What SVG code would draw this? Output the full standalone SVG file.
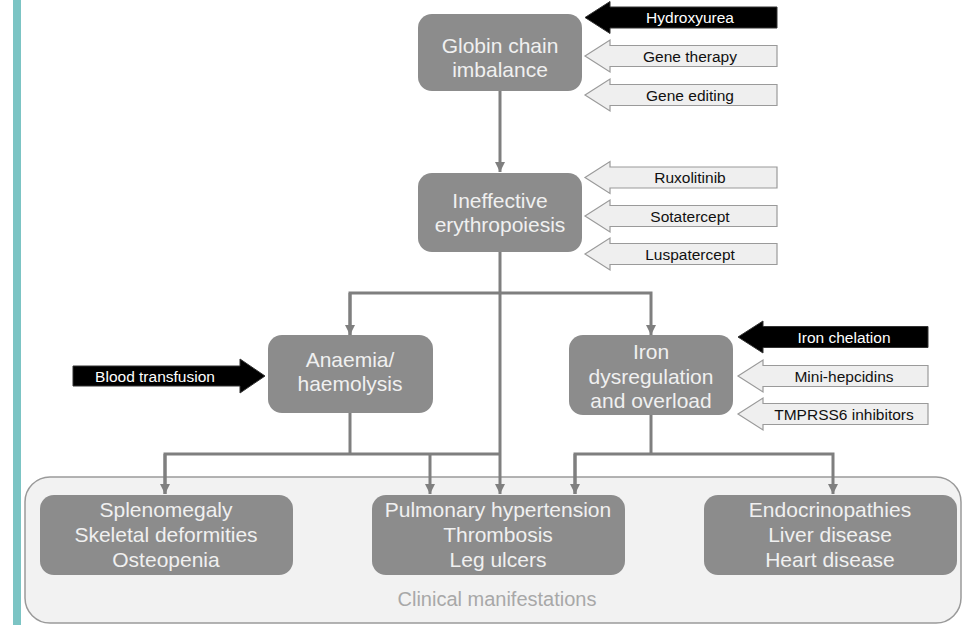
<svg xmlns="http://www.w3.org/2000/svg" xmlns:xlink="http://www.w3.org/1999/xlink" width="963" height="628" viewBox="0 0 963 628">
<style>
.node{fill:#8c8c8c;}
.nt{font-family:"Liberation Sans",Arial,sans-serif;font-size:21px;fill:#f0f0f0;text-anchor:middle;}
.conn{stroke:#7f7f7f;stroke-width:3;fill:none;}
.blk{fill:#000;stroke:#333;stroke-width:1;}
.lgt{fill:#efefef;stroke:#9a9a9a;stroke-width:1.2;}
.lb{font-family:"Liberation Sans",Arial,sans-serif;font-size:15.5px;text-anchor:middle;}
.lbw{fill:#ffffff;}
.lbk{fill:#111;}
.cm{font-family:"Liberation Sans",Arial,sans-serif;font-size:20px;fill:#a8a8a8;text-anchor:middle;}
</style>
<defs>
<marker id="ah" viewBox="0 0 10 10" refX="10" refY="5" markerWidth="10" markerHeight="11" markerUnits="userSpaceOnUse" orient="auto">
<path d="M0,0 L10,5 L0,10 Z" fill="#7f7f7f"/>
</marker>
<path id="larrow" d="M0,0 L25,-16 L25,-10.5 L192,-10.5 L192,10.5 L25,10.5 L25,16 Z"/>
<path id="larrow2" d="M0,0 L25,-16 L25,-10.5 L190,-10.5 L190,10.5 L25,10.5 L25,16 Z"/>
</defs>
<rect x="13" y="0" width="8" height="625" fill="#7cc4c4"/>
<g id="clinical">
<rect x="25" y="477" width="936" height="146" rx="25" fill="#f2f2f2" stroke="#9a9a9a" stroke-width="1.5"/>
<text class="cm" x="497" y="606">Clinical manifestations</text>
</g>
<g id="connectors">
<line class="conn" x1="500" y1="91" x2="500" y2="172" marker-end="url(#ah)"/>
<line class="conn" x1="500" y1="252" x2="500" y2="494" marker-end="url(#ah)"/>
<polyline class="conn" points="350,335 350,293 651,293 651,335" marker-end="url(#ah)"/>
<line class="conn" x1="350" y1="293" x2="350" y2="335" marker-end="url(#ah)"/>
<line class="conn" x1="350" y1="413" x2="350" y2="454"/>
<polyline class="conn" points="165,494 165,454 500,454"/>
<line class="conn" x1="165" y1="454" x2="165" y2="494" marker-end="url(#ah)"/>
<line class="conn" x1="430" y1="454" x2="430" y2="494" marker-end="url(#ah)"/>
<line class="conn" x1="651" y1="415" x2="651" y2="454"/>
<polyline class="conn" points="575,494 575,454 833,454 833,494" marker-end="url(#ah)"/>
<line class="conn" x1="575" y1="454" x2="575" y2="494" marker-end="url(#ah)"/>
</g>
<g id="globin">
<rect class="node" x="418" y="14" width="164" height="77" rx="14"/>
<text class="nt" x="500" y="53">Globin chain</text>
<text class="nt" x="500" y="77">imbalance</text>
</g>
<g id="ineffective">
<rect class="node" x="418" y="173" width="164" height="79" rx="14"/>
<text class="nt" x="500" y="208">Ineffective</text>
<text class="nt" x="500" y="232">erythropoiesis</text>
</g>
<g id="anaemia">
<rect class="node" x="268" y="335" width="165" height="78" rx="14"/>
<text class="nt" x="350" y="367">Anaemia/</text>
<text class="nt" x="350" y="391">haemolysis</text>
</g>
<g id="iron">
<rect class="node" x="569" y="335" width="164" height="80" rx="14"/>
<text class="nt" x="651" y="359">Iron</text>
<text class="nt" x="651" y="384">dysregulation</text>
<text class="nt" x="651" y="408">and overload</text>
</g>
<g id="splenomegaly">
<rect class="node" x="40" y="495" width="253" height="80" rx="14"/>
<text class="nt" x="166" y="517">Splenomegaly</text>
<text class="nt" x="166" y="542">Skeletal deformities</text>
<text class="nt" x="166" y="567">Osteopenia</text>
</g>
<g id="pulmonary">
<rect class="node" x="372" y="495" width="253" height="80" rx="14"/>
<text class="nt" x="498" y="517">Pulmonary hypertension</text>
<text class="nt" x="498" y="542">Thrombosis</text>
<text class="nt" x="498" y="567">Leg ulcers</text>
</g>
<g id="endocrinopathies">
<rect class="node" x="704" y="495" width="253" height="80" rx="14"/>
<text class="nt" x="830" y="517">Endocrinopathies</text>
<text class="nt" x="830" y="542">Liver disease</text>
<text class="nt" x="830" y="567">Heart disease</text>
</g>
<g id="hydroxyurea">
<use xlink:href="#larrow" class="blk" transform="translate(585,17.5)"/>
<text class="lb lbw" x="690" y="23">Hydroxyurea</text>
</g>
<g id="gene-therapy">
<use xlink:href="#larrow" class="lgt" transform="translate(585,56)"/>
<text class="lb lbk" x="690" y="61.5">Gene therapy</text>
</g>
<g id="gene-editing">
<use xlink:href="#larrow" class="lgt" transform="translate(585,95)"/>
<text class="lb lbk" x="690" y="100.5">Gene editing</text>
</g>
<g id="ruxolitinib">
<use xlink:href="#larrow" class="lgt" transform="translate(585,177.5)"/>
<text class="lb lbk" x="690" y="183">Ruxolitinib</text>
</g>
<g id="sotatercept">
<use xlink:href="#larrow" class="lgt" transform="translate(585,216)"/>
<text class="lb lbk" x="690" y="221.5">Sotatercept</text>
</g>
<g id="luspatercept">
<use xlink:href="#larrow" class="lgt" transform="translate(585,254)"/>
<text class="lb lbk" x="690" y="259.5">Luspatercept</text>
</g>
<g id="iron-chelation">
<use xlink:href="#larrow2" class="blk" transform="translate(738,337)"/>
<text class="lb lbw" x="844" y="342.5">Iron chelation</text>
</g>
<g id="mini-hepcidins">
<use xlink:href="#larrow2" class="lgt" transform="translate(738,376)"/>
<text class="lb lbk" x="844" y="381.5">Mini-hepcidins</text>
</g>
<g id="tmprss6">
<use xlink:href="#larrow2" class="lgt" transform="translate(738,414)"/>
<text class="lb lbk" x="844" y="419.5">TMPRSS6 inhibitors</text>
</g>
<g id="blood-transfusion">
<path class="blk" d="M265,376 L240,359 L240,366 L73,366 L73,386 L240,386 L240,393 Z"/>
<text class="lb lbw" x="155" y="381.5">Blood transfusion</text>
</g>
</svg>
